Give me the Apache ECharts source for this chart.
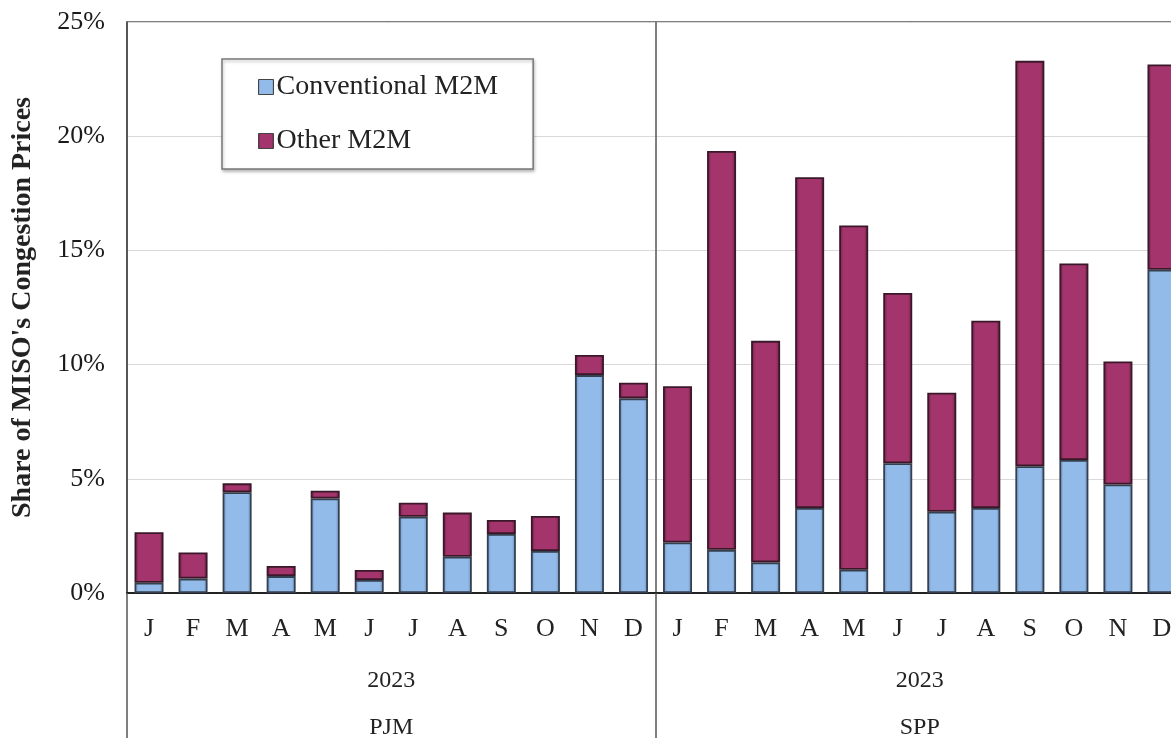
<!DOCTYPE html>
<html>
<head>
<meta charset="utf-8">
<script src="https://cdn.jsdelivr.net/npm/echarts@6/dist/echarts.min.js"></script>
<style>
html,body{margin:0;padding:0;background:#fff;}
#chart{width:1171px;height:738px;}
</style>
</head>
<body>
<div id="chart"></div>
<script>
// ---- data ----
var months = ['J','F','M','A','M','J','J','A','S','O','N','D'];
var regions = ['PJM','SPP'];
var yearLabel = '2023';
var yTicks = [0, 5, 10, 15, 20, 25];
// Conventional M2M share (%), PJM then SPP
var pjmConventional = [0.45, 0.63, 4.41, 0.74, 4.14, 0.57, 3.34, 1.59, 2.58, 1.84, 9.54, 8.52];
var sppConventional = [2.21, 1.89, 1.34, 3.72, 1.02, 5.68, 3.56, 3.72, 5.55, 5.82, 4.75, 14.15];
// Total share (%)
var pjmTotal = [2.66, 1.77, 4.80, 1.18, 4.48, 1.01, 3.95, 3.52, 3.20, 3.37, 10.42, 9.21];
var sppTotal = [9.05, 19.35, 11.04, 18.20, 16.09, 13.14, 8.77, 11.92, 23.30, 14.43, 10.14, 23.14];

// ---- build ----
var categories = [];
regions.forEach(function (r) { months.forEach(function (m, i) { categories.push(r + '|' + i + '|' + m); }); });
var conventional = pjmConventional.concat(sppConventional);
var totals = pjmTotal.concat(sppTotal);
var other = totals.map(function (t, i) { return +(t - conventional[i]).toFixed(2); });

var serif = "'Liberation Serif','Times New Roman',serif";
var blueFill = {type:'linear',x:0,y:0,x2:1,y2:0,colorStops:[{offset:0,color:'#6a8cb8'},{offset:0.14,color:'#93bbe9'},{offset:0.86,color:'#93bbe9'},{offset:1,color:'#6a8cb8'}]};
var purpleFill = {type:'linear',x:0,y:0,x2:1,y2:0,colorStops:[{offset:0,color:'#681d41'},{offset:0.14,color:'#a3346c'},{offset:0.86,color:'#a3346c'},{offset:1,color:'#681d41'}]};

var chart = echarts.init(document.getElementById('chart'));
chart.setOption({
  animation: false,
  backgroundColor: '#fff',
  grid: { left: 127, width: 1057, top: 22, height: 571, containLabel: false, outerBoundsMode: 'none',
    show: true, borderColor: '#555', borderWidth: 1.5, backgroundColor: 'transparent' },
  legend: {
    left: 222, top: 59, orient: 'vertical',
    padding: [14, 35, 14, 36], itemGap: 26,
    itemWidth: 15, itemHeight: 15, icon: 'rect',
    backgroundColor: '#fff', borderColor: '#777', borderWidth: 1.5,
    shadowColor: 'rgba(0,0,0,0.25)', shadowBlur: 3, shadowOffsetX: 1, shadowOffsetY: 2,
    itemStyle: { borderColor: '#444', borderWidth: 1 },
    textStyle: { fontFamily: serif, fontSize: 28, color: '#222', padding: [0, 0, 0, -2] },
    data: ['Conventional M2M', 'Other M2M']
  },
  xAxis: [
    {
      type: 'category', data: categories, position: 'bottom',
      axisLine: { show: true, lineStyle: { color: '#222', width: 2 } },
      axisTick: { show: false },
      axisLabel: { margin: 23, fontFamily: serif, fontSize: 26, color: '#222', interval: 0,
        formatter: function (v) { return v.split('|')[2]; } }
    },
    {
      type: 'category', data: regions, position: 'bottom', gridIndex: 0,
      axisLine: { show: false }, axisTick: { show: false },
      axisLabel: { margin: 76, fontFamily: serif, fontSize: 24, color: '#222', formatter: function () { return yearLabel; } }
    },
    {
      type: 'category', data: regions, position: 'bottom', gridIndex: 0,
      axisLine: { show: false },
      axisTick: { show: true, interval: 0, length: 150, lineStyle: { color: '#555', width: 1.5 } },
      splitLine: { show: true, interval: 0, lineStyle: { color: '#555', width: 1.5 } },
      axisLabel: { margin: 123, fontFamily: serif, fontSize: 24, color: '#222' }
    }
  ],
  yAxis: {
    type: 'value', min: yTicks[0], max: yTicks[yTicks.length - 1], interval: 5,
    name: "Share of MISO's Congestion Prices", nameLocation: 'middle', nameGap: 90,
    nameTextStyle: { fontFamily: serif, fontSize: 28, fontWeight: 'bold', color: '#222' },
    axisLine: { show: true, lineStyle: { color: '#555', width: 1.5 } },
    axisTick: { show: false },
    axisLabel: { margin: 22, fontFamily: serif, fontSize: 26, color: '#1a1a1a', formatter: '{value}%' },
    splitLine: { show: true, lineStyle: { color: '#d9d9d9', width: 1 } }
  },
  series: [
    {
      name: 'Conventional M2M', type: 'bar', stack: 'm2m', barWidth: 29, data: conventional,
      itemStyle: { color: blueFill, borderColor: '#34404f', borderWidth: 1.8 }
    },
    {
      name: 'Other M2M', type: 'bar', stack: 'm2m', barWidth: 29, data: other,
      itemStyle: { color: purpleFill, borderColor: '#3a1829', borderWidth: 1.8 }
    }
  ]
});
</script>
</body>
</html>
